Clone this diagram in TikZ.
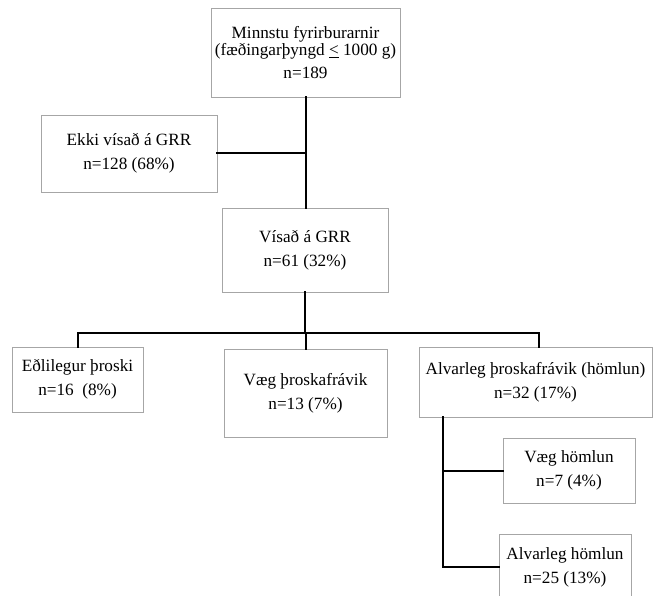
\documentclass[tikz,border=0pt]{standalone}
\usepackage{fontspec}
\setmainfont{Liberation Serif}
\begin{document}
\begin{tikzpicture}[x=1pt,y=-1pt,
  box/.style={draw=black!35, line width=0.9pt, fill=white, align=center, inner sep=0pt,
    font=\fontsize{17.2}{24}\selectfont},
  conn/.style={line width=2pt, line cap=rect}]
\fill[white] (0,0) rectangle (653,596);
\useasboundingbox (0,0) rectangle (653,596);

\node[box, minimum width=189pt, minimum height=89pt] (top) at (305.5,52.5)
  {Minnstu fyrirburarnir\\[-7pt](fæðingarþyngd \underline{<} 1000 g)\\[-1pt]n=189};
\node[box, minimum width=176pt, minimum height=77pt] (ekki) at (129,153.5)
  {Ekki vísað á GRR\\n=128 (68\%)};
\node[box, minimum width=166pt, minimum height=84pt] (visad) at (305,250)
  {Vísað á GRR\\n=61 (32\%)};
\node[box, minimum width=131pt, minimum height=65pt] (edl) at (77.5,379.5)
  {Eðlilegur þroski\\n=16~ (8\%)};
\node[box, minimum width=163pt, minimum height=88pt] (vaeg) at (305.5,393)
  {Væg þroskafrávik\\n=13 (7\%)};
\node[box, minimum width=233pt, minimum height=70pt] (alv) at (535.5,382)
  {Alvarleg þroskafrávik (hömlun)\\n=32 (17\%)};
\node[box, minimum width=132pt, minimum height=65pt] (vh) at (569,470.5)
  {Væg hömlun\\n=7 (4\%)};
\node[box, minimum width=132pt, minimum height=66pt] (ah) at (565,567)
  {Alvarleg hömlun\\n=25 (13\%)};

\coordinate (hb) at (305,333);
\coordinate (alvtop) at (539,347);
\coordinate (av) at (443,417);

\draw[conn] (top.south) -- (top.south |- visad.north);
\draw[conn] (ekki.east) -- (ekki.east -| top.south);
\draw[conn] (visad.south) -- (visad.south |- hb);
\draw[conn] (edl.north) -- (edl.north |- hb) -- (alvtop |- hb) -- (alvtop);
\draw[conn] (vaeg.north) -- (vaeg.north |- hb);
\draw[conn] (av) -- (av |- ah.west) -- (ah.west);
\draw[conn] (av |- vh.west) -- (vh.west);
\end{tikzpicture}
\end{document}
